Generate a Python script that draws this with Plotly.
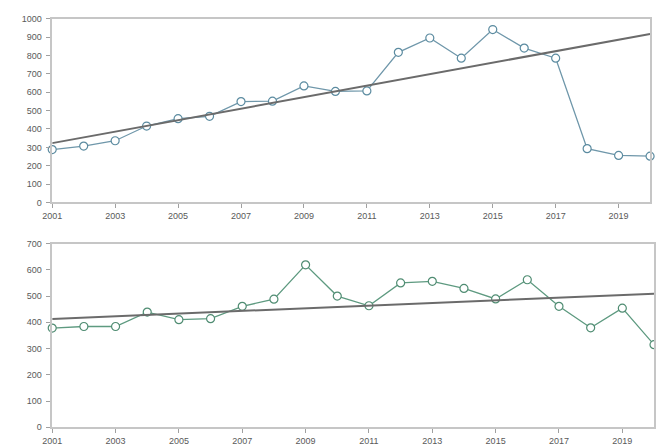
import plotly.graph_objects as go

# Years on the horizontal axis
years = list(range(2001, 2021))

# Upper series
upper_values = [288, 307, 336, 416, 456, 469, 549, 551, 634, 604,
                607, 817, 895, 785, 941, 840, 785, 293, 256, 252]
upper_trend_years = [2001, 2020]
upper_trend_values = [323, 917]

# Lower series
lower_values = [378, 384, 384, 439, 410, 414, 461, 488, 619, 500,
                463, 550, 556, 529, 489, 562, 461, 379, 454, 315]
lower_trend_years = [2001, 2020]
lower_trend_values = [413, 509]

W, H = 656, 447
axis_color = "#c6c6c6"
text_color = "#595959"
font = dict(family="Liberation Sans, Arial, sans-serif", size=9, color=text_color)

fig = go.Figure()

# upper panel
fig.add_trace(go.Scatter(
    x=years, y=upper_values, mode="lines+markers",
    line=dict(color="#6f97aa", width=1.3),
    marker=dict(symbol="circle", size=8, color="white",
                line=dict(color="#5b8ba0", width=1.2)),
    xaxis="x", yaxis="y", showlegend=False, cliponaxis=False,
))
fig.add_trace(go.Scatter(
    x=upper_trend_years, y=upper_trend_values, mode="lines",
    line=dict(color="#6b6b6b", width=2),
    xaxis="x", yaxis="y", showlegend=False,
))

# lower panel
fig.add_trace(go.Scatter(
    x=years, y=lower_values, mode="lines+markers",
    line=dict(color="#5e9a80", width=1.3),
    marker=dict(symbol="circle", size=8, color="white",
                line=dict(color="#4f8c72", width=1.2)),
    xaxis="x2", yaxis="y2", showlegend=False, cliponaxis=False,
))
fig.add_trace(go.Scatter(
    x=lower_trend_years, y=lower_trend_values, mode="lines",
    line=dict(color="#6b6b6b", width=2),
    xaxis="x2", yaxis="y2", showlegend=False,
))

xcommon = dict(
    range=[2001, 2020], tickmode="linear", tick0=2001, dtick=2,
    ticks="outside", ticklen=4, tickcolor="#a0a0a0",
    showline=True, linecolor=axis_color, linewidth=1.5, mirror=True,
    showgrid=False, zeroline=False, tickfont=font,
)
ycommon = dict(
    ticks="outside", ticklen=4, tickcolor="#a0a0a0", ticklabelstandoff=3,
    showline=True, linecolor=axis_color, linewidth=1.5, mirror=True,
    showgrid=False, zeroline=False, tickfont=font,
)

fig.update_layout(
    width=W, height=H,
    margin=dict(l=0, r=0, t=0, b=0),
    paper_bgcolor="white", plot_bgcolor="white",
    xaxis=dict(xcommon, domain=[43 / W, 652 / W], anchor="y"),
    yaxis=dict(ycommon, domain=[(H - 202) / H, (H - 14) / H],
               range=[0, 1000], dtick=100, anchor="x"),
    xaxis2=dict(xcommon, domain=[43 / W, 1.0], anchor="y2"),
    yaxis2=dict(ycommon, domain=[(H - 432) / H, (H - 244) / H],
                range=[0, 700], dtick=100, anchor="x2"),
)

fig.write_html("out.html")
